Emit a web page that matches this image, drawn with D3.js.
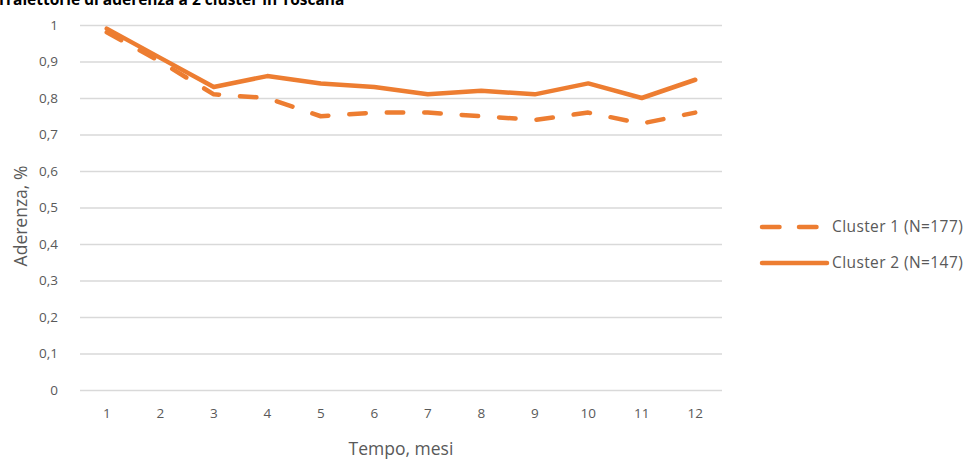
<!DOCTYPE html>
<html>
<head>
<meta charset="utf-8">
<script src="https://cdn.jsdelivr.net/npm/d3@7"></script>
<style>
  html, body { margin: 0; padding: 0; background: #fff; }
  svg { display: block; }
</style>
</head>
<body>
<svg id="chart" width="969" height="461"></svg>
<script>
// Mesi di osservazione
const months = ["1", "2", "3", "4", "5", "6", "7", "8", "9", "10", "11", "12"];
// Aderenza media per cluster
const cluster1 = [0.98, 0.90, 0.81, 0.80, 0.75, 0.76, 0.76, 0.75, 0.74, 0.76, 0.73, 0.76];
const cluster2 = [0.99, 0.91, 0.83, 0.86, 0.84, 0.83, 0.81, 0.82, 0.81, 0.84, 0.80, 0.85];
const yTicks = [0, 0.1, 0.2, 0.3, 0.4, 0.5, 0.6, 0.7, 0.8, 0.9, 1];
const seriesNames = ["Cluster 1 (N=177)", "Cluster 2 (N=147)"];

const svg = d3.select("#chart");
const orange = "#ED7D31";
const font = "'Open Sans', 'Noto Sans', sans-serif";
const plot = { left: 80, right: 722, top: 25, bottom: 390 };

const x = d3.scaleBand().domain(months).range([plot.left, plot.right]);
const y = d3.scaleLinear().domain([0, 1]).range([plot.bottom, plot.top]);
const fmt = v => d3.format(".1~f")(v).replace(".", ",");

// Titolo
svg.append("text")
  .attr("x", -3).attr("y", 5)
  .attr("font-family", font).attr("font-weight", "bold")
  .attr("font-size", 15.5).attr("fill", "#000")
  .text("Traiettorie di aderenza a 2 cluster in Toscana");

// Griglia e etichette asse Y
const yAxis = svg.append("g")
  .attr("transform", `translate(${plot.left},0)`)
  .call(d3.axisLeft(y).tickValues(yTicks).tickFormat(fmt).tickSize(-(plot.right - plot.left)).tickPadding(22));
yAxis.select(".domain").remove();
yAxis.selectAll(".tick line").attr("stroke", "#d9d9d9").attr("stroke-width", 1.5);
yAxis.selectAll(".tick text")
  .attr("font-family", font).attr("font-size", 13.5).attr("fill", "#595959");

// Etichette asse X
const xAxis = svg.append("g")
  .attr("transform", `translate(0,${plot.bottom})`)
  .call(d3.axisBottom(x).tickSize(0).tickPadding(18));
xAxis.select(".domain").remove();
xAxis.selectAll(".tick text")
  .attr("font-family", font).attr("font-size", 13.5).attr("fill", "#595959");

// Titoli assi
svg.append("text")
  .attr("x", (plot.left + plot.right) / 2).attr("y", 455)
  .attr("text-anchor", "middle")
  .attr("font-family", font).attr("font-size", 17.5).attr("fill", "#595959")
  .text("Tempo, mesi");
svg.append("text")
  .attr("transform", `translate(27,216) rotate(-90)`)
  .attr("text-anchor", "middle")
  .attr("font-family", font).attr("font-size", 17.5).attr("fill", "#595959")
  .text("Aderenza, %");

// Linee
const line = d3.line()
  .x((d, i) => x(months[i]) + x.bandwidth() / 2)
  .y(d => y(d));

const series = [
  { name: seriesNames[0], values: cluster1, dash: "16.5,21", legendDash: "17.5,19.5", lx2: 817 },
  { name: seriesNames[1], values: cluster2, dash: null, legendDash: null, lx2: 827 }
];

series.forEach(s => {
  svg.append("path")
    .datum(s.values)
    .attr("d", line)
    .attr("fill", "none")
    .attr("stroke", orange)
    .attr("stroke-width", 4.5)
    .attr("stroke-linecap", "round")
    .attr("stroke-linejoin", "round")
    .attr("stroke-dasharray", s.dash);
});

// Legenda
const legend = svg.append("g");
series.forEach((s, i) => {
  const ly = 227 + i * 36;
  legend.append("line")
    .attr("x1", 762).attr("x2", s.lx2).attr("y1", ly).attr("y2", ly)
    .attr("stroke", orange).attr("stroke-width", 4.5)
    .attr("stroke-linecap", "round")
    .attr("stroke-dasharray", s.legendDash);
  legend.append("text")
    .attr("x", 832).attr("y", ly + 5)
    .attr("font-family", font).attr("font-size", 15.5)
    .attr("letter-spacing", 0.4).attr("fill", "#595959")
    .text(s.name);
});
</script>
</body>
</html>
